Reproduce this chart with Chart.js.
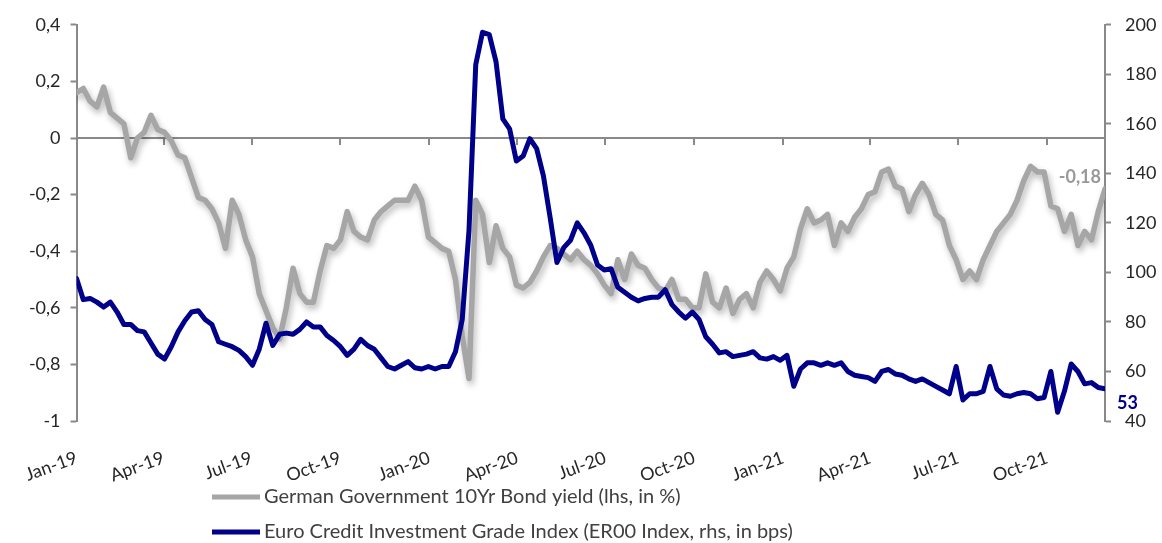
<!DOCTYPE html>
<html>
<head>
<meta charset="utf-8">
<script src="https://cdn.jsdelivr.net/npm/chart.js@4.4.1/dist/chart.umd.min.js"></script>
<style>
  html, body { margin: 0; padding: 0; background: #ffffff; }
  canvas { display: block; }
</style>
</head>
<body>
<canvas id="myChart" width="1162" height="543"></canvas>
<script>
// weekly observations, the first one on 1 Jan 2019 (x = days since then)
const bundYield = [
  0.16, 0.175, 0.13, 0.11, 0.18, 0.09, 0.07, 0.05, -0.07, 0.0,
  0.02, 0.08, 0.03, 0.02, -0.01, -0.06, -0.07, -0.14, -0.21, -0.22,
  -0.25, -0.3, -0.39, -0.22, -0.27, -0.36, -0.42, -0.55, -0.61, -0.67,
  -0.71, -0.6, -0.46, -0.55, -0.58, -0.58, -0.47, -0.38, -0.39, -0.36,
  -0.26, -0.33, -0.35, -0.36, -0.29, -0.26, -0.24, -0.22, -0.22, -0.22,
  -0.17, -0.22, -0.35, -0.37, -0.39, -0.4, -0.5, -0.7, -0.85, -0.22,
  -0.27, -0.44, -0.31, -0.39, -0.42, -0.52, -0.53, -0.51, -0.47, -0.42,
  -0.38, -0.39, -0.41, -0.43, -0.4, -0.43, -0.45, -0.48, -0.52, -0.55,
  -0.43, -0.5, -0.41, -0.45, -0.46, -0.5, -0.53, -0.54, -0.5, -0.57,
  -0.57, -0.6, -0.6, -0.48, -0.58, -0.6, -0.53, -0.62, -0.57, -0.55,
  -0.6, -0.51, -0.47, -0.5, -0.54, -0.46, -0.42, -0.32, -0.25, -0.3,
  -0.29, -0.27, -0.38, -0.3, -0.33, -0.28, -0.25, -0.2, -0.19, -0.12,
  -0.11, -0.17, -0.18, -0.26, -0.2, -0.16, -0.2, -0.27, -0.29, -0.38,
  -0.43, -0.5, -0.47, -0.5, -0.43, -0.38, -0.33, -0.3, -0.27, -0.22,
  -0.15, -0.1, -0.12, -0.12, -0.24, -0.25, -0.33, -0.27, -0.38, -0.33,
  -0.36, -0.26, -0.18
];
const creditIG = [
  97.5, 89, 89.5, 88, 86, 88, 84, 79, 79, 76.5,
  76, 71.5, 67, 65, 70, 76, 80.5, 84, 84.5, 81,
  79, 72, 71, 70, 68.5, 66, 62.5, 69, 79.5, 70.5,
  75, 75.5, 75, 77, 80, 78, 78, 74.5, 72.5, 70,
  66.5, 69, 73, 70.5, 69, 65.5, 62, 61, 62.5, 64,
  61.5, 61, 62, 61, 62, 62, 68, 81, 117, 184,
  197, 196, 185, 162, 158, 145, 147, 154, 150, 139,
  122, 104, 110, 113, 120, 116, 111, 103, 101, 101.5,
  94, 92, 90, 88.5, 89.5, 90, 90, 93, 87, 84,
  81.5, 84, 81, 74, 71, 67.5, 68, 66, 66.5, 67,
  68, 65.5, 65, 66, 64.5, 66.5, 54, 61, 63.5, 63.5,
  62.5, 63.5, 62.5, 63.5, 60, 58.5, 58, 57.5, 56, 60,
  60.8, 59, 58.5, 57, 56, 57, 55.5, 54, 52.5, 51,
  62, 48.5, 51, 51, 52, 62, 53, 50.5, 50, 51,
  51.5, 51, 49, 49.5, 60, 43.5, 52, 63, 60, 55,
  55.5, 53.5, 53
];
const weekDays = bundYield.map((v, i) => i * 7);
const quarterDays = [0, 90, 181, 273, 365, 456, 547, 639, 731, 821, 912, 1004];
const quarterLabels = ['Jan-19', 'Apr-19', 'Jul-19', 'Oct-19', 'Jan-20', 'Apr-20',
                       'Jul-20', 'Oct-20', 'Jan-21', 'Apr-21', 'Jul-21', 'Oct-21'];
const seriesNames = ['German Government 10Yr Bond yield (lhs, in %)',
                     'Euro Credit Investment Grade Index (ER00 Index, rhs, in bps)'];

const greyColor = '#a6a6a6';
const navyColor = '#00008b';
const axisGrey = '#898989';
const textColor = '#262626';
const fontFamily = 'Lato, "Open Sans", sans-serif';

const lastDay = weekDays[weekDays.length - 1];
const quarterTicks = (scale) => { scale.ticks = quarterDays.map(v => ({ value: v })); };
const commaNum = (v, d) => {
  const s = Number(v.toFixed(d)).toString();
  return s.replace('.', ',');
};

// soft drop shadow under the yield line, like the original
const bundShadow = {
  id: 'bundShadow',
  beforeDatasetDraw(chart, args) {
    if (args.index !== 0) return;
    const ctx = chart.ctx;
    ctx.save();
    ctx.shadowColor = 'rgba(0,0,0,0.28)';
    ctx.shadowBlur = 6;
    ctx.shadowOffsetX = 2;
    ctx.shadowOffsetY = 4;
  },
  afterDatasetDraw(chart, args) {
    if (args.index === 0) chart.ctx.restore();
  }
};

// last value labels
const endLabels = {
  id: 'endLabels',
  afterDatasetsDraw(chart) {
    const ctx = chart.ctx;
    ctx.save();
    ctx.font = 'bold 18px ' + fontFamily;
    ctx.textBaseline = 'middle';
    const g = chart.getDatasetMeta(0).data;
    const gp = g[g.length - 1];
    ctx.fillStyle = '#999999';
    ctx.textAlign = 'right';
    ctx.fillText(commaNum(bundYield[bundYield.length - 1], 2), gp.x - 4, gp.y - 12);
    const n = chart.getDatasetMeta(1).data;
    const np = n[n.length - 1];
    ctx.fillStyle = navyColor;
    ctx.textAlign = 'left';
    ctx.fillText(String(creditIG[creditIG.length - 1]), np.x + 12, np.y + 14);
    ctx.restore();
  }
};

// legend: one entry per row under the axis labels
const stackedLegend = {
  id: 'stackedLegend',
  afterDraw(chart) {
    const ctx = chart.ctx;
    ctx.save();
    ctx.font = '20px ' + fontFamily;
    ctx.textBaseline = 'middle';
    ctx.textAlign = 'left';
    chart.data.datasets.forEach((ds, i) => {
      const y = 497 + i * 35;
      ctx.strokeStyle = ds.borderColor;
      ctx.lineWidth = 5;
      ctx.beginPath();
      ctx.moveTo(212, y);
      ctx.lineTo(260, y);
      ctx.stroke();
      ctx.fillStyle = '#404040';
      ctx.fillText(ds.label, 264, y);
    });
    ctx.restore();
  }
};

const ctx = document.getElementById('myChart').getContext('2d');
const myChart = new Chart(ctx, {
  type: 'line',
  data: {
    datasets: [{
      label: seriesNames[0],
      data: weekDays.map((d, i) => ({ x: d, y: bundYield[i] })),
      yAxisID: 'y',
      borderColor: greyColor,
      backgroundColor: greyColor,
      borderWidth: 5.5,
      pointRadius: 0,
      tension: 0,
      borderJoinStyle: 'round',
      borderCapStyle: 'round',
      order: 2
    }, {
      label: seriesNames[1],
      data: weekDays.map((d, i) => ({ x: d, y: creditIG[i] })),
      yAxisID: 'y1',
      borderColor: navyColor,
      backgroundColor: navyColor,
      borderWidth: 5,
      pointRadius: 0,
      tension: 0,
      borderJoinStyle: 'round',
      borderCapStyle: 'round',
      order: 1
    }]
  },
  options: {
    responsive: false,
    animation: false,
    devicePixelRatio: 1,
    layout: { padding: { top: 23, left: 0, right: 0, bottom: 0 } },
    plugins: {
      legend: { display: false },
      tooltip: { enabled: false }
    },
    scales: {
      x: {
        type: 'linear',
        min: 0,
        max: lastDay,
        afterBuildTicks: quarterTicks,
        afterFit(scale) { scale.height = 122; },
        grid: { display: false, drawTicks: false },
        border: { display: false },
        ticks: {
          autoSkip: false,
          minRotation: 20,
          maxRotation: 20,
          padding: 26,
          color: textColor,
          font: { family: fontFamily, size: 18 },
          callback: (v) => quarterLabels[quarterDays.indexOf(v)]
        }
      },
      x2: {
        type: 'linear',
        min: 0,
        max: lastDay,
        position: { y: 0 },
        afterBuildTicks: quarterTicks,
        ticks: { display: false },
        grid: { drawOnChartArea: false, drawTicks: true, tickLength: 6, color: axisGrey, lineWidth: 2 },
        border: { display: true, color: axisGrey, width: 2 }
      },
      y: {
        position: 'left',
        min: -1,
        max: 0.4,
        afterFit(scale) { scale.width = 61; },
        grid: { drawOnChartArea: false, tickLength: 6, tickColor: axisGrey, tickWidth: 2 },
        border: { display: true, color: axisGrey, width: 2 },
        ticks: {
          stepSize: 0.2,
          padding: 10,
          color: textColor,
          font: { family: fontFamily, size: 18 },
          callback: (v) => commaNum(v, 1)
        }
      },
      y1: {
        position: 'right',
        min: 40,
        max: 200,
        afterFit(scale) { scale.width = 57; },
        grid: { drawOnChartArea: false, tickLength: 6, tickColor: axisGrey, tickWidth: 2 },
        border: { display: true, color: axisGrey, width: 2 },
        ticks: {
          stepSize: 20,
          padding: 14,
          color: textColor,
          font: { family: fontFamily, size: 18 }
        }
      }
    }
  },
  plugins: [bundShadow, endLabels, stackedLegend]
});
</script>
</body>
</html>
